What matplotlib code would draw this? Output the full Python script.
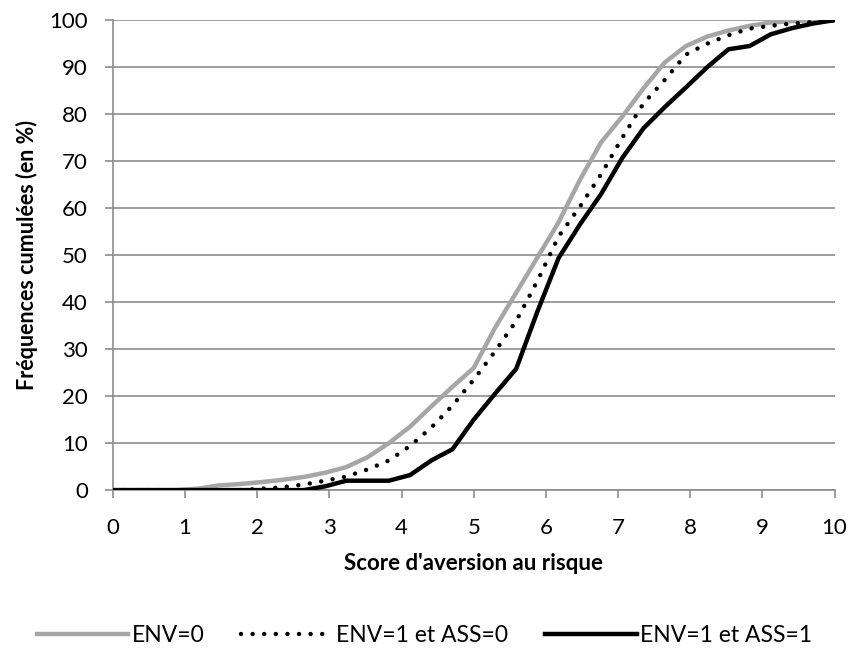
import matplotlib.pyplot as plt

plt.rcParams['font.family'] = ['Lato', 'DejaVu Sans']

# raw score 0..34, shown on a 0-10 scale
score_raw = [0, 1, 2, 3, 4, 5, 6, 7, 8, 9, 10, 11, 12, 13, 14, 15, 16, 17,
             18, 19, 20, 21, 22, 23, 24, 25, 26, 27, 28, 29, 30, 31, 32, 33, 34]

env0 = [0, 0, 0, 0, 0.3, 1, 1.3, 1.7, 2.2, 2.8, 3.7, 4.9, 7, 10, 13.5, 17.8,
        22, 26, 34.5, 42, 49.5, 57, 66, 74, 79.5, 85.5, 91, 94.5, 96.5, 97.8,
        98.8, 99.5, 99.8, 100, 100]
env1_ass0 = [0, 0, 0, 0, 0, 0, 0, 0.3, 0.6, 1.2, 2, 2.9, 4.4, 6.3, 9.4, 13.3,
             18, 23.5, 29.5, 36, 44.5, 54, 60.3, 67.2, 75, 82.3, 87.3, 92.7,
             95, 96.8, 98.2, 98.8, 99.3, 99.6, 100]
env1_ass1 = [0, 0, 0, 0, 0, 0, 0, 0, 0, 0, 0.8, 2, 2, 2, 3.2, 6.3, 8.7, 15,
             20.5, 25.8, 38, 49.4, 56.5, 63, 70.7, 77, 81.5, 85.7, 90, 93.8,
             94.5, 97, 98.3, 99.3, 100]

x = [s * 10 / 34 for s in score_raw]

fig = plt.figure(figsize=(8.49, 6.5), dpi=100)
ax = fig.add_axes([0.133, 0.246, 0.850, 0.723])

ax.plot(x, env0, color='#a6a6a6', lw=3.2, label='ENV=0', zorder=3)
ax.plot(x, env1_ass0, color='black', lw=3.2, linestyle=(0, (0.01, 2.6)),
        dash_capstyle='round', label='ENV=1 et ASS=0', zorder=4)
ax.plot(x, env1_ass1, color='black', lw=3.2, label='ENV=1 et ASS=1', zorder=5)

ax.set_xlim(0, 10)
ax.set_ylim(0, 100)
ax.set_xticks(range(0, 11))
ax.set_yticks(range(0, 101, 10))
ax.yaxis.grid(True, color='#8c8c8c', lw=1.2)
ax.set_axisbelow(True)
for s in ['top', 'right']:
    ax.spines[s].set_visible(False)
for s in ['left', 'bottom']:
    ax.spines[s].set_color('#8c8c8c')
    ax.spines[s].set_linewidth(1.2)
ax.tick_params(axis='both', colors='#8c8c8c', labelcolor='black',
               labelsize=16, length=6, width=1.2, direction='out')
ax.tick_params(axis='x', pad=14)
ax.tick_params(axis='y', pad=12)

ax.set_xlabel("Score d'aversion au risque", fontsize=16, fontweight='bold',
              labelpad=11)
ax.set_ylabel('Fréquences cumulées (en %)', fontsize=15.5, fontweight='bold',
              labelpad=8)

fig.legend(loc='center', bbox_to_anchor=(0.5, 0.022), ncol=3, frameon=False,
           fontsize=16.5, handlelength=4.0, columnspacing=1.6, handletextpad=0.15)

fig.savefig('out.png', dpi=100)
